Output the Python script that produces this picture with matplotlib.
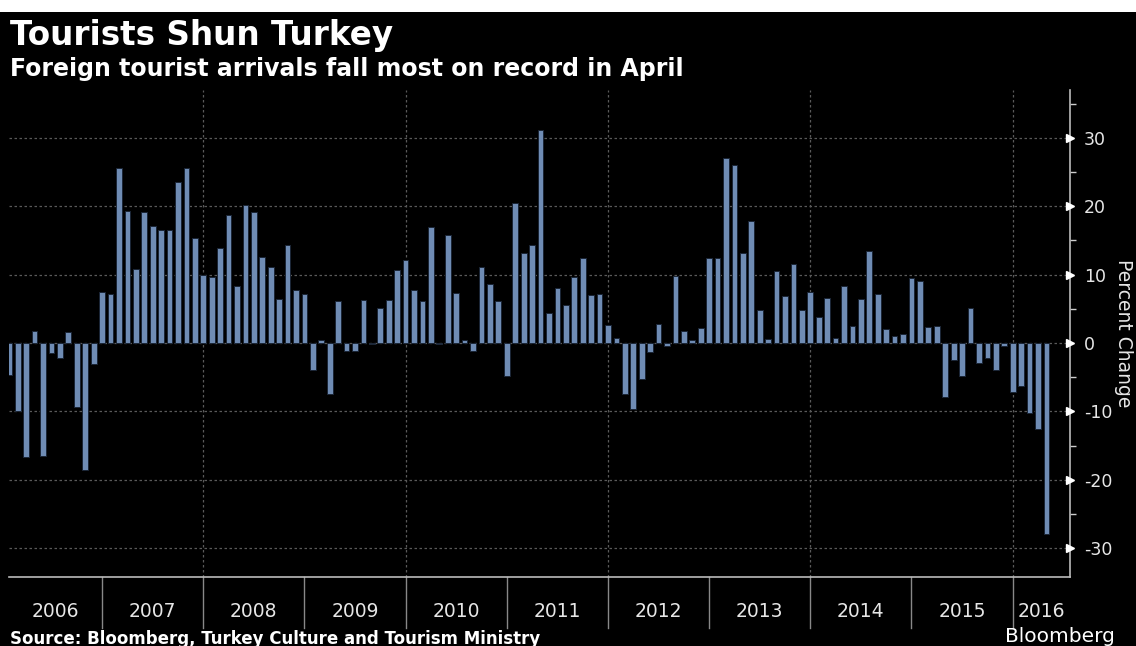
import numpy as np
import matplotlib.pyplot as plt
from matplotlib.patches import Rectangle

# Year-over-year change in foreign tourist arrivals, monthly, Jan 2006 - Apr 2016
year_labels = ['2006', '2007', '2008', '2009', '2010', '2011',
               '2012', '2013', '2014', '2015', '2016']
pct_change = [
    -4.7, -10.0, -16.6, 1.8, -16.5, -1.4, -2.2, 1.6, -9.3, -18.6, -3.0, 7.5,   # 2006
    7.2, 25.6, 19.3, 10.9, 19.2, 17.1, 16.6, 16.6, 23.6, 25.6, 15.4, 9.9,     # 2007
    9.6, 13.9, 18.7, 8.4, 20.2, 19.1, 12.6, 11.1, 6.4, 14.4, 7.7, 7.2,        # 2008
    -3.9, 0.4, -7.4, 6.2, -1.1, -1.2, 6.3, -0.1, 5.2, 6.3, 10.7, 12.2,        # 2009
    7.7, 6.2, 17.0, -0.2, 15.8, 7.3, 0.4, -1.1, 11.1, 8.6, 6.2, -4.8,         # 2010
    20.5, 13.2, 14.4, 31.2, 4.4, 8.0, 5.5, 9.6, 12.5, 7.0, 7.2, 2.6,          # 2011
    0.7, -7.5, -9.6, -5.2, -1.3, 2.8, -0.5, 9.8, 1.8, 0.4, 2.2, 12.4,         # 2012
    12.5, 27.1, 26.0, 13.1, 17.9, 4.9, 0.6, 10.6, 6.9, 11.6, 4.8, 7.4,        # 2013
    3.8, 6.6, 0.7, 8.3, 2.5, 6.4, 13.5, 7.2, 2.0, 1.1, 1.3, 9.5,              # 2014
    9.1, 2.3, 2.5, -7.9, -2.5, -4.8, 5.1, -2.9, -2.2, -3.9, -0.4, -7.2,       # 2015
    -6.3, -10.2, -12.6, -27.9,                                                # 2016
]
y_ticks = [-30, -20, -10, 0, 10, 20, 30]

BG = 'black'
BAR = '#6f8cb4'
GRID = '#5a5a5a'
TXT = '#e6e6e6'

plt.rcParams['axes.unicode_minus'] = False

fig = plt.figure(figsize=(11.36, 6.46), dpi=100, facecolor=BG)
ax = fig.add_axes([9 / 1136, 69 / 646, 1061 / 1136, 487 / 646])
ax.set_facecolor(BG)

# white strip at the very top of the image
fig.patches.append(Rectangle((0, 1 - 12 / 646), 1, 12 / 646, transform=fig.transFigure,
                             facecolor='white', edgecolor='none', zorder=0))

# bars sit at month ends: month i -> i + 1 months after Jan 1 2006
x = np.arange(len(pct_change)) + 1
ax.bar(x, pct_change, width=0.68, color=BAR, edgecolor='#1b2636', linewidth=0.7, zorder=3)

ax.set_xlim(0.96, 126.8)
ax.set_ylim(-34.2, 37.0)

# grid
for yv in y_ticks:
    ax.axhline(yv, color=GRID, lw=0.9, ls=(0, (2, 2)), zorder=1)
for k in range(2, len(year_labels), 2):
    ax.axvline(12 * k, color=GRID, lw=0.9, ls=(0, (2, 2)), zorder=1)

# spines
for s in ['top', 'left']:
    ax.spines[s].set_visible(False)
for s in ['right', 'bottom']:
    ax.spines[s].set_color('#bbbbbb')
    ax.spines[s].set_linewidth(1.2)

# right y axis
ax.yaxis.tick_right()
ax.set_yticks(y_ticks)
ax.set_yticklabels([str(v) for v in y_ticks])
ax.set_yticks(np.arange(-25, 40, 10), minor=True)
ax.tick_params(axis='y', which='major', length=0, pad=10, labelsize=12.5, labelcolor=TXT)
ax.tick_params(axis='y', which='minor', length=4, width=1, color='#cccccc', direction='out')
ax.plot(np.ones(len(y_ticks)), y_ticks, marker='>', ls='none', ms=6, color='white',
        transform=ax.get_yaxis_transform(), clip_on=False, zorder=5)
ax.yaxis.set_label_position('right')
ax.set_ylabel('Percent Change', rotation=270, color=TXT, fontsize=13.5, labelpad=15)

# x axis: year separators and centred labels
ax.set_xticks([])
xt = ax.get_xaxis_transform()
lo, hi = ax.get_xlim()
for k, lab in enumerate(year_labels):
    if k > 0:
        ax.plot([12 * k, 12 * k], [0, -0.105], color='#888888', lw=1,
                transform=xt, clip_on=False)
    a, b = max(12 * k, lo), min(12 * (k + 1), hi)
    ax.text((a + b) / 2, -0.07, lab, transform=xt, ha='center', va='center',
            color=TXT, fontsize=13.5)

# titles and footer
fig.text(10 / 1136, 1 - 36 / 646, 'Tourists Shun Turkey', color='white',
         fontsize=23.5, fontweight='bold', va='center', ha='left')
fig.text(10 / 1136, 1 - 69 / 646, 'Foreign tourist arrivals fall most on record in April',
         color='white', fontsize=17, fontweight='bold', va='center', ha='left')
fig.text(10 / 1136, 1 - 639 / 646, 'Source: Bloomberg, Turkey Culture and Tourism Ministry',
         color='white', fontsize=12, fontweight='bold', va='center', ha='left')
fig.text(1115 / 1136, 1 - 636 / 646, 'Bloomberg', color='white', fontsize=14.5,
         va='center', ha='right')

fig.savefig('out.png', dpi=100, facecolor=BG)
